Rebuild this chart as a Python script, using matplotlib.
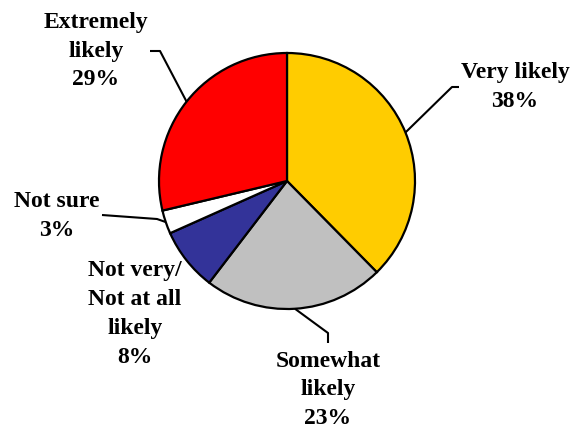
import numpy as np
import matplotlib.pyplot as plt

labels = ['Very likely', 'Somewhat\nlikely', 'Not very/\nNot at all\nlikely',
          'Not sure', 'Extremely\nlikely']
shares = [38, 23, 8, 3, 29]
colors = ['#FFCC00', '#C0C0C0', '#333399', '#FFFFFF', '#FF0000']

# label centres and leader-line bend points, in pixels from the top-left
label_pos = [(515, 87), (328, 390), (135, 314), (57, 216), (96, 51)]
leader_path = [[(452, 87), (459, 87)],
               [(328, 333), (328, 343)],
               None,
               [(157, 219), (102, 215)],
               [(160, 51), (150, 51)]]

W, H = 579, 433
cx, cy, r = 287, 181, 128

plt.rcParams['font.family'] = ['Liberation Serif', 'DejaVu Serif']

fig = plt.figure(figsize=(W / 100, H / 100), dpi=100)
ax = fig.add_axes([0, 0, 1, 1])

wedges, _ = ax.pie(shares, colors=colors, startangle=90, counterclock=False,
                   center=(cx, H - cy), radius=r,
                   wedgeprops=dict(edgecolor='black', linewidth=1.6))

total = sum(shares)
for w, lab, v, pos, path in zip(wedges, labels, shares, label_pos, leader_path):
    mid = np.deg2rad((w.theta1 + w.theta2) / 2)
    ex, ey = cx + r * np.cos(mid), H - cy + r * np.sin(mid)
    if path is not None:
        xs = [ex] + [p[0] for p in path]
        ys = [ey] + [H - p[1] for p in path]
        ax.plot(xs, ys, color='black', lw=1.5, solid_capstyle='butt')
    ax.text(pos[0], H - pos[1], f'{lab}\n{v / total * 100:.0f}%',
            ha='center', va='center', fontsize=17, fontweight='bold',
            linespacing=1.48)

ax.set_xlim(0, W)
ax.set_ylim(0, H)
ax.set_aspect('equal')
ax.axis('off')

fig.savefig('out.png', dpi=100)
